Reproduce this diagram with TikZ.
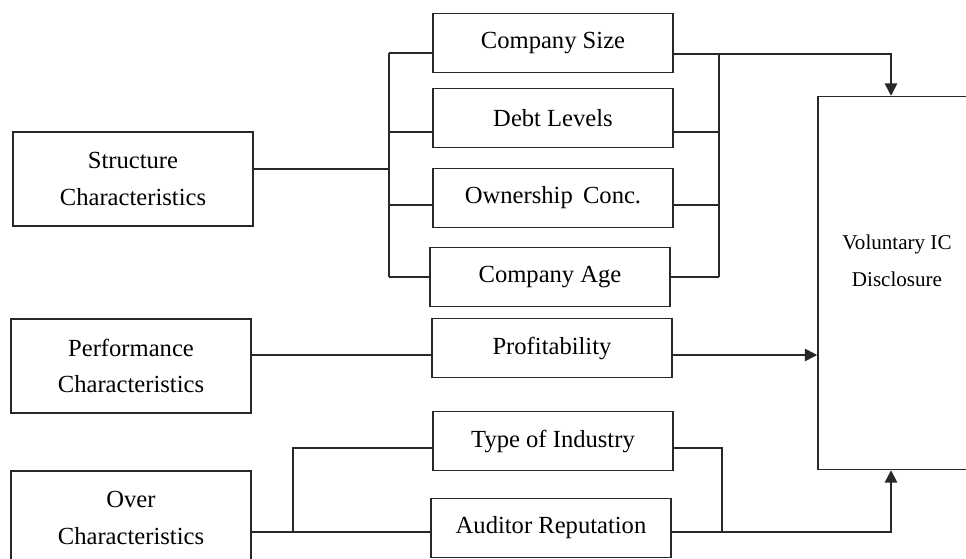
\documentclass[tikz,border=0pt]{standalone}
\usepackage{fontspec}
\setmainfont{Liberation Serif}
\usepackage{tikz}
\usetikzlibrary{arrows.meta, positioning, calc}
\definecolor{linegray}{RGB}{40,40,40}

\begin{document}
\begin{tikzpicture}[x=0.02cm, y=-0.02cm,
    link/.style={draw=linegray, line width=0.9pt},
    groupbox/.style={rectangle, draw=linegray, line width=0.9pt, minimum width=4.8cm, minimum height=1.88cm, align=center, font=\fontsize{14}{21}\selectfont},
    factorbox/.style={rectangle, draw=linegray, line width=0.9pt, minimum width=4.8cm, minimum height=1.18cm, align=center, font=\fontsize{14}{17}\selectfont},
    arr/.style={link, -{Triangle[width=7pt,length=7pt]}}]
\useasboundingbox (0,0) rectangle (966,558);

% Left column
\node[groupbox] (struct) at (133,179) {Structure\\Characteristics};
\node[groupbox] (perf) at (131,366) {Performance\\Characteristics};
\node[groupbox] (over) at (131,518) {Over\\Characteristics};

% Middle column
\node[factorbox] (size) at (553,43) {Company Size};
\node[factorbox] (debt) at (553,118) {Debt Levels};
\node[factorbox] (own) at (553,198) {Ownership\, Conc.};
\node[factorbox] (age) at (550,277) {Company Age};
\node[factorbox] (profit) at (552,348) {Profitability};
\node[factorbox] (industry) at (553,441) {Type of Industry};
\node[factorbox] (auditor) at (551,528) {Auditor Reputation};

% Outcome
\node[rectangle, draw=linegray, line width=0.9pt, minimum width=3.2cm, minimum height=7.46cm] (ic) at (898,283) {};
\node[align=center, font=\fontsize{12}{21}\selectfont] (iclabel) at (897,261) {Voluntary IC\\Disclosure};

% Structure bus
\coordinate (sj) at (389,169);
\coordinate (l-size) at (389,53);
\coordinate (l-debt) at (389,132);
\coordinate (l-own) at (389,205);
\coordinate (l-age) at (389,277);
\draw[link] (struct.east |- sj) -- (sj);
\draw[link] (l-size) -- (l-age);
\foreach \n in {size,debt,own,age} {
    \draw[link] (l-\n) -- (\n.west |- l-\n);
}
\coordinate (r-size) at (719,54);
\coordinate (r-debt) at (719,132);
\coordinate (r-own) at (719,205);
\coordinate (r-age) at (719,277);
\draw[link] (r-size) -- (r-age);
\foreach \n in {debt,own,age} {
    \draw[link] (\n.east |- r-\n) -- (r-\n);
}
\coordinate (icin) at (891,54);
\draw[arr] (size.east |- r-size) -- (icin) -- (icin |- ic.north);

% Performance
\coordinate (pj) at (340,355);
\draw[link] (perf.east |- pj) -- (profit.west |- pj);
\draw[arr] (profit.east |- pj) -- (ic.west |- pj);

% Over
\coordinate (oj) at (293,532);
\coordinate (ojt) at (293,448);
\draw[link] (over.east |- oj) -- (auditor.west |- oj);
\draw[link] (oj) -- (ojt) -- (industry.west |- ojt);
\coordinate (tj) at (722,448);
\coordinate (aj) at (891,532);
\draw[link] (industry.east |- tj) -- (tj) -- (tj |- aj);
\draw[arr] (auditor.east |- aj) -- (aj) -- (aj |- ic.south);
\end{tikzpicture}
\end{document}
